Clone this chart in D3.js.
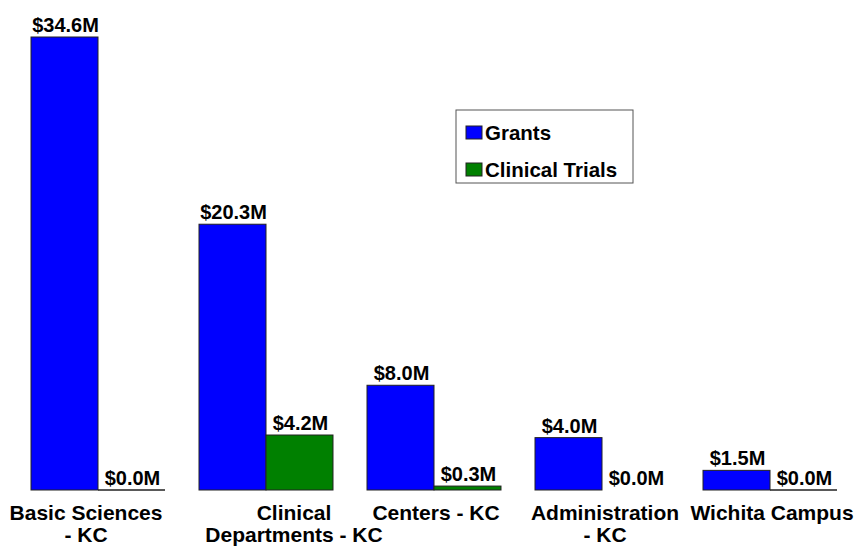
<!DOCTYPE html>
<html>
<head>
<meta charset="utf-8">
<script src="https://cdn.jsdelivr.net/npm/d3@7"></script>
<style>
  body { margin: 0; background: #fff; }
  text { font-family: Arial, "Liberation Sans", sans-serif; font-weight: bold; fill: #000; }
</style>
</head>
<body>
<script>
// data ($ millions)
var categories = [["Basic Sciences", "- KC"], ["Clinical", "Departments - KC"], ["Centers - KC"], ["Administration", "- KC"], ["Wichita Campus"]];
var seriesNames = ["Grants", "Clinical Trials"];
var grants = [34.6, 20.3, 8.0, 4.0, 1.5];
var clinicalTrials = [0.0, 4.2, 0.3, null, 0.0];
var colors = ["#0000ff", "#008000"];

var W = 858, H = 551;
var svg = d3.select("body").append("svg").attr("width", W).attr("height", H);

var catIdx = d3.range(categories.length);
var x = d3.scaleBand().domain(catIdx).range([14, 854]).paddingInner(0.2024).paddingOuter(0.1012);
var xs = d3.scaleBand().domain([0, 1]).range([0, x.bandwidth()]);
var y = d3.scaleLinear().domain([0, 34.6]).range([490, 37]);

var fmt = function(v){ return "$" + d3.format(".1f")(v || 0) + "M"; };

var series = [grants, clinicalTrials];

series.forEach(function(vals, s){
  var g = svg.append("g");
  vals.forEach(function(v, i){
    var x0 = x(i) + xs(s);
    if (v > 0) {
      g.append("rect")
        .attr("x", x0).attr("y", y(v))
        .attr("width", xs.bandwidth()).attr("height", y(0) - y(v))
        .attr("fill", colors[s]).attr("stroke", "#222").attr("stroke-width", 1);
    } else if (v === 0) {
      g.append("line")
        .attr("x1", x0).attr("x2", x0 + xs.bandwidth())
        .attr("y1", y(0)).attr("y2", y(0))
        .attr("stroke", "#222").attr("stroke-width", 1.5);
    }
    var ty = Math.max(23, y(v || 0) - 5);
    g.append("text")
      .attr("x", x0 + xs.bandwidth() / 2 + 1)
      .attr("y", ty)
      .attr("text-anchor", "middle")
      .style("font-size", "20px")
      .text(fmt(v));
  });
});

// category labels (a couple are nudged like in the original)
var labelShift = [-12, 28, 2, 3, 2];
categories.forEach(function(lines, i){
  var t = svg.append("text")
    .attr("text-anchor", "middle")
    .style("font-size", "21px");
  lines.forEach(function(l, k){
    t.append("tspan")
      .attr("x", x(i) + x.bandwidth() / 2 + labelShift[i])
      .attr("y", 520 + k * 22)
      .text(l);
  });
});

// legend
var leg = svg.append("g").attr("transform", "translate(456,110)");
leg.append("rect").attr("width", 177).attr("height", 73)
  .attr("fill", "#fff").attr("stroke", "#555").attr("stroke-width", 1);
seriesNames.forEach(function(n, s){
  var row = leg.append("g").attr("transform", "translate(10," + (16 + s * 37) + ")");
  row.append("rect").attr("width", 16).attr("height", 13)
    .attr("fill", colors[s]).attr("stroke", "#222");
  row.append("text").attr("x", 19).attr("y", 14)
    .style("font-size", "20.5px")
    .text(n);
});
</script>
</body>
</html>
